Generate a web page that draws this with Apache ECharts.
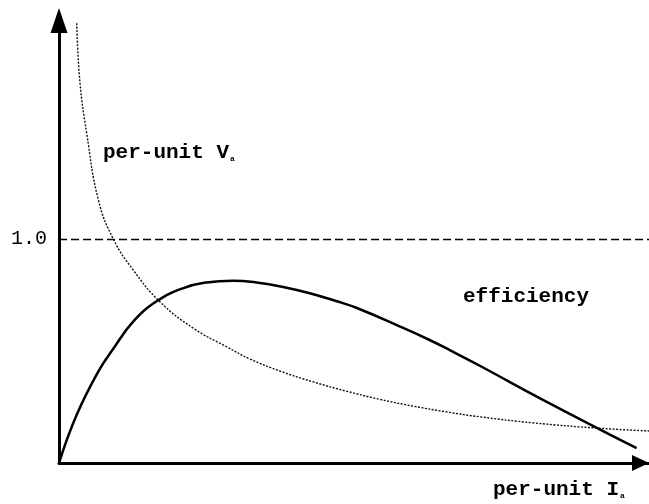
<!DOCTYPE html>
<html>
<head>
<meta charset="utf-8">
<script src="https://cdn.jsdelivr.net/npm/echarts@6/dist/echarts.min.js"></script>
<style>
  html, body { margin: 0; padding: 0; background: #fff; }
  #chart { width: 649px; height: 504px; }
</style>
</head>
<body>
<div id="chart"></div>
<script>
  // per-unit current (x) and the two curves
  var effX = [0, 0.30, 0.67, 0.92, 1.26, 1.66, 2.11, 2.50, 2.95, 3.35, 3.80, 4.25, 4.71, 5.05, 5.78, 6.29, 6.63, 7.14, 8.21, 9.79]
  var effY = [0, 0.215, 0.41, 0.51, 0.632, 0.723, 0.781, 0.806, 0.814, 0.806, 0.786, 0.758, 0.722, 0.692, 0.609, 0.548, 0.503, 0.433, 0.281, 0.066]

  var voltX = [0.30, 0.356, 0.469, 0.666, 0.92, 1.26, 1.71, 2.28, 2.84, 3.24, 3.75, 4.31, 4.88, 5.44, 6.00, 6.57, 7.14, 8.04, 9.17, 10]
  var voltY = [1.963, 1.696, 1.473, 1.176, 1.0, 0.861, 0.72, 0.601, 0.519, 0.464, 0.410, 0.362, 0.320, 0.284, 0.254, 0.228, 0.206, 0.179, 0.155, 0.143]

  var refLevel = 1.0

  function pairs(xs, ys) {
    return xs.map(function (x, i) { return [x, ys[i]] })
  }

  var chart = echarts.init(document.getElementById('chart'))
  var mono = '"Liberation Mono", "Courier New", monospace'

  chart.setOption({
    animation: false,
    grid: { left: 59, right: 0, top: 15, bottom: 41 },
    xAxis: {
      type: 'value',
      min: 0,
      max: 10,
      axisLine: {
        lineStyle: { color: '#000', width: 3 },
        symbol: ['none', 'triangle'],
        symbolSize: [16, 17],
        symbolOffset: [0, -8.5]
      },
      axisTick: { show: false },
      axisLabel: { show: false },
      splitLine: { show: false }
    },
    yAxis: {
      type: 'value',
      min: 0,
      max: 2,
      interval: 1,
      axisLine: {
        show: true,
        lineStyle: { color: '#000', width: 3 },
        symbol: ['none', 'triangle'],
        symbolSize: [17, 25],
        symbolOffset: [0, -5.5]
      },
      axisTick: { show: false },
      axisLabel: {
        margin: 12,
        color: '#000',
        fontFamily: mono,
        fontSize: 20,
        formatter: function (v) { return v === refLevel ? '1.0' : '' }
      },
      splitLine: { show: false }
    },
    series: [
      {
        name: 'efficiency',
        type: 'line',
        smooth: 0.45,
        showSymbol: false,
        lineStyle: { color: '#000', width: 2.5 },
        data: pairs(effX, effY),
        markLine: {
          silent: true,
          symbol: ['none', 'none'],
          label: { show: false },
          lineStyle: { color: '#000', width: 1.3, type: [8, 4] },
          data: [{ yAxis: refLevel }]
        }
      },
      {
        name: 'per-unit Va',
        type: 'line',
        smooth: 0.45,
        showSymbol: false,
        lineStyle: { color: '#111', width: 1.4, type: [2, 1.5] },
        data: pairs(voltX, voltY)
      }
    ],
    graphic: [
      {
        type: 'text', x: 103, y: 153,
        style: {
          text: '{m|per-unit V}{s|a}',
          verticalAlign: 'middle',
          rich: {
            m: { font: 'bold 21px ' + mono, fill: '#000' },
            s: { font: 'bold 8px ' + mono, fill: '#000', padding: [12, 0, 0, 1] }
          }
        }
      },
      {
        type: 'text', x: 463, y: 297,
        style: { text: 'efficiency', verticalAlign: 'middle', font: 'bold 21px ' + mono, fill: '#000' }
      },
      {
        type: 'text', x: 493, y: 490,
        style: {
          text: '{m|per-unit I}{s|a}',
          verticalAlign: 'middle',
          rich: {
            m: { font: 'bold 21px ' + mono, fill: '#000' },
            s: { font: 'bold 8px ' + mono, fill: '#000', padding: [12, 0, 0, 1] }
          }
        }
      }
    ]
  })
</script>
</body>
</html>
